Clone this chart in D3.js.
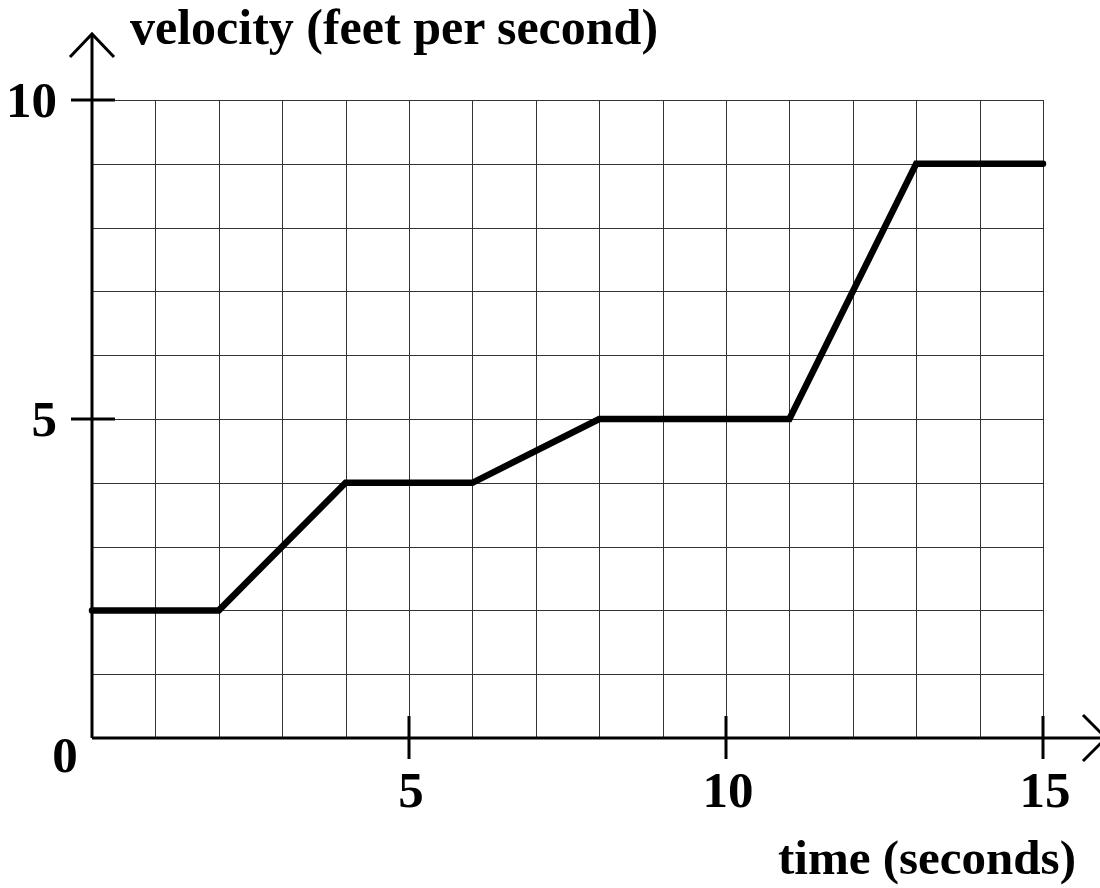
<!DOCTYPE html>
<html>
<head>
<meta charset="utf-8">
<script src="https://d3js.org/d3.v7.min.js"></script>
<style>
  body { margin: 0; background: #fff; }
  text { font-family: "Liberation Serif", "Times New Roman", serif; font-weight: bold; fill: #000; }
</style>
</head>
<body>
<div class="canvas"></div>
<script>
// data
const times = [0, 2, 4, 6, 8, 11, 13, 15];
const velocities = [2, 2, 4, 4, 5, 5, 9, 9];
const xTicks = [5, 10, 15];
const yTicks = [5, 10];
const gridX = d3.range(1, 16);
const gridY = d3.range(1, 11);

const dims = {width: 1100, height: 888};

const svg = d3.select(".canvas").append("svg")
    .attr("width", dims.width)
    .attr("height", dims.height);

const x = d3.scaleLinear().domain([0, 15]).range([92, 1043]);
const y = d3.scaleLinear().domain([0, 10]).range([738, 100]);

// grid
const grid = svg.append("g").attr("stroke", "#333").attr("stroke-width", 1);
grid.selectAll("line.v")
    .data(gridX)
    .enter().append("line")
    .attr("class", "v")
    .attr("x1", d => Math.round(x(d)) + 0.5).attr("x2", d => Math.round(x(d)) + 0.5)
    .attr("y1", y(0)).attr("y2", y(10));
grid.selectAll("line.h")
    .data(gridY)
    .enter().append("line")
    .attr("class", "h")
    .attr("x1", x(0)).attr("x2", x(15))
    .attr("y1", d => Math.round(y(d)) + 0.5).attr("y2", d => Math.round(y(d)) + 0.5);

// axes with arrows
const axes = svg.append("g").attr("stroke", "#000").attr("stroke-width", 3).attr("fill", "none");
axes.append("line").attr("x1", x(0)).attr("x2", x(0)).attr("y1", y(0)).attr("y2", 34);
axes.append("path").attr("d", `M${x(0) - 22},57 L${x(0)},34 L${x(0) + 22},57`);
axes.append("line").attr("x1", x(0)).attr("x2", 1106).attr("y1", y(0)).attr("y2", y(0));
axes.append("path").attr("d", `M1083,${y(0) - 23} L1106,${y(0)} L1083,${y(0) + 23}`);

axes.selectAll("line.xt")
    .data(xTicks)
    .enter().append("line")
    .attr("class", "xt")
    .attr("x1", d => x(d)).attr("x2", d => x(d))
    .attr("y1", y(0) - 22).attr("y2", y(0) + 21);
axes.selectAll("line.yt")
    .data(yTicks)
    .enter().append("line")
    .attr("class", "yt")
    .attr("x1", x(0) - 21).attr("x2", x(0) + 23)
    .attr("y1", d => y(d)).attr("y2", d => y(d));

// tick labels
svg.selectAll("text.xl")
    .data(xTicks)
    .enter().append("text")
    .attr("class", "xl")
    .attr("x", d => x(d) + 2).attr("y", 807)
    .attr("text-anchor", "middle")
    .style("font-size", "51px")
    .text(d => d);
svg.selectAll("text.yl")
    .data(yTicks)
    .enter().append("text")
    .attr("class", "yl")
    .attr("x", 57).attr("y", d => y(d) + 17)
    .attr("text-anchor", "end")
    .style("font-size", "51px")
    .text(d => d);
svg.append("text")
    .attr("x", 65).attr("y", 772)
    .attr("text-anchor", "middle")
    .style("font-size", "51px")
    .text("0");

// axis titles
svg.append("text")
    .attr("x", 130).attr("y", 44)
    .style("font-size", "50px")
    .text("velocity (feet per second)");
svg.append("text")
    .attr("x", 1076).attr("y", 874)
    .attr("text-anchor", "end")
    .style("font-size", "49px")
    .text("time (seconds)");

// the velocity line
const line = d3.line()
    .x((d, i) => x(times[i]))
    .y(d => y(d));

svg.append("path")
    .datum(velocities)
    .attr("d", line)
    .attr("fill", "none")
    .attr("stroke", "#000")
    .attr("stroke-width", 6.5)
    .attr("stroke-linecap", "round");
</script>
</body>
</html>
